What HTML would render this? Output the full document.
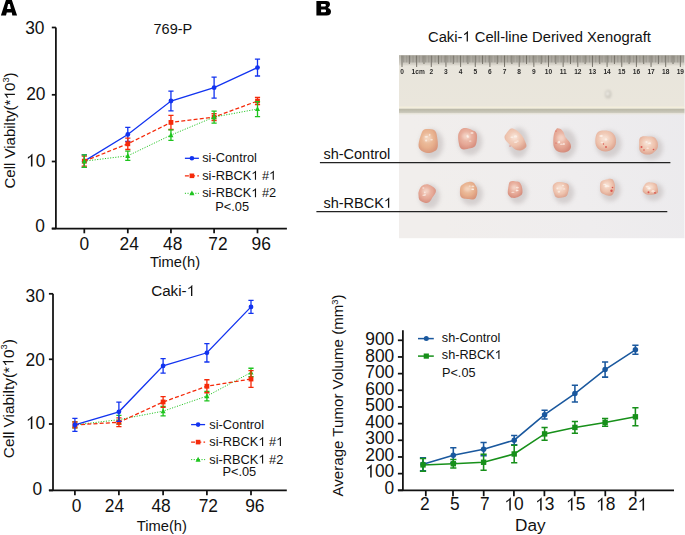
<!DOCTYPE html>
<html><head><meta charset="utf-8"><style>
html,body{margin:0;padding:0;background:#fff;}
svg{display:block;}
text{font-family:"Liberation Sans", sans-serif;fill:#111;}
</style></head><body>
<svg width="685" height="535" viewBox="0 0 685 535">
<defs>
<radialGradient id="tumA" cx="45%" cy="40%" r="62%">
<stop offset="0" stop-color="#efc7aa"/>
<stop offset="0.6" stop-color="#e8b18e"/>
<stop offset="1" stop-color="#d9977c"/>
</radialGradient>
<radialGradient id="tumB" cx="45%" cy="40%" r="62%">
<stop offset="0" stop-color="#f0c6b6"/>
<stop offset="0.6" stop-color="#e6a997"/>
<stop offset="1" stop-color="#d58b7b"/>
</radialGradient>
<radialGradient id="tumC" cx="45%" cy="40%" r="62%">
<stop offset="0" stop-color="#f6dccd"/>
<stop offset="0.6" stop-color="#eec3ae"/>
<stop offset="1" stop-color="#dca18d"/>
</radialGradient>
<linearGradient id="paper" x1="0" y1="0.2" x2="1" y2="0">
<stop offset="0" stop-color="#f1eeec"/>
<stop offset="0.5" stop-color="#efedee"/>
<stop offset="1" stop-color="#ebeaed"/>
</linearGradient>
<linearGradient id="rulerbody" x1="0" y1="0" x2="0" y2="1">
<stop offset="0" stop-color="#e8e5dc"/>
<stop offset="1" stop-color="#eae6dc"/>
</linearGradient>
<linearGradient id="tickband" x1="0" y1="0" x2="0" y2="1">
<stop offset="0" stop-color="#b3b0a6"/>
<stop offset="0.7" stop-color="#cbc8bf"/>
<stop offset="1" stop-color="#dedad0"/>
</linearGradient>
<linearGradient id="rulershadow" x1="0" y1="0" x2="0" y2="1">
<stop offset="0" stop-color="#b9b7a6"/>
<stop offset="0.5" stop-color="#c2c0b1"/>
<stop offset="1" stop-color="#d2d0c4"/>
</linearGradient>
<filter id="bl" x="-50%" y="-50%" width="200%" height="200%"><feGaussianBlur stdDeviation="2.2"/></filter>
<filter id="bl1" x="-50%" y="-50%" width="200%" height="200%"><feGaussianBlur stdDeviation="0.8"/></filter>
<filter id="bl2" x="-100%" y="-100%" width="300%" height="300%"><feGaussianBlur stdDeviation="0.35"/></filter>
<filter id="bl3" x="-20%" y="-20%" width="140%" height="140%"><feGaussianBlur stdDeviation="0.45"/></filter>
</defs>
<rect width="685" height="535" fill="#fff"/>
<path fill-rule="evenodd" fill="#000" d="M6.1 -0.5H11.7L17.1 15.4H12.3L11.8 12.6H6.8L6.0 15.4H0.9ZM8.1 4.0H9.8L10.9 9.1H7.0Z"/>
<path fill-rule="evenodd" fill="#000" d="M316.4 0.9H326.1Q330.0 0.9 330.0 4.3Q330.0 6.9 327.9 7.9Q331.0 8.8 331.0 11.6Q331.0 15.6 326.6 15.6H316.4ZM321.1 4.1H324.7Q325.9 4.1 325.9 5.35Q325.9 6.6 324.7 6.6H321.1ZM321.1 9.5H324.9Q326.1 9.5 326.1 10.9Q326.1 12.3 324.9 12.3H321.1Z"/>
<path d="M55.9 27.5V228.5M51.8 228.5H286.9" stroke="#111" stroke-width="1.75" fill="none"/>
<path d="M51.8 228.50H55.9" stroke="#111" stroke-width="1.75"/>
<text transform="translate(45.00,231.50) scale(0.965,1.0)" font-size="18.0" text-anchor="end" >0</text>
<path d="M51.8 161.50H55.9" stroke="#111" stroke-width="1.75"/>
<path transform="translate(25.98,166.60) scale(17.370,-18.000)" d="M0.373 0H0.285V0.560C0.250 0.527 0.208 0.497 0.160 0.469C0.140 0.457 0.125 0.449 0.110 0.442V0.527C0.180 0.560 0.240 0.600 0.287 0.648C0.318 0.680 0.338 0.700 0.350 0.716H0.373Z" fill="#111"/>
<text transform="translate(35.64,166.60) scale(0.965,1)" font-size="18.0">0</text>
<path d="M51.8 94.80H55.9" stroke="#111" stroke-width="1.75"/>
<text transform="translate(45.50,100.30) scale(0.965,1.0)" font-size="18.0" text-anchor="end" >20</text>
<path d="M51.8 27.50H55.9" stroke="#111" stroke-width="1.75"/>
<text transform="translate(44.50,33.75) scale(0.965,1.0)" font-size="18.0" text-anchor="end" >30</text>
<path d="M84.3 228.5V233.3" stroke="#111" stroke-width="1.75"/>
<text transform="translate(84.45,249.70) scale(0.965,1.0)" font-size="18.0" text-anchor="middle" >0</text>
<path d="M127.8 228.5V233.3" stroke="#111" stroke-width="1.75"/>
<text transform="translate(129.15,249.70) scale(0.965,1.0)" font-size="18.0" text-anchor="middle" >24</text>
<path d="M170.95 228.5V233.3" stroke="#111" stroke-width="1.75"/>
<text transform="translate(172.70,249.70) scale(0.965,1.0)" font-size="18.0" text-anchor="middle" >48</text>
<path d="M214.1 228.5V233.3" stroke="#111" stroke-width="1.75"/>
<text transform="translate(217.90,249.70) scale(0.965,1.0)" font-size="18.0" text-anchor="middle" >72</text>
<path d="M257.5 228.5V233.3" stroke="#111" stroke-width="1.75"/>
<text transform="translate(261.20,249.70) scale(0.965,1.0)" font-size="18.0" text-anchor="middle" >96</text>
<g transform="translate(153.50,33.80)"><text transform="translate(0.00,0.00) scale(1.0,1)" font-size="14.5" fill="#111" xml:space="preserve">769-P</text></g>
<text transform="translate(149.90,266.60) scale(1.03,1.0)" font-size="14.3" text-anchor="start" >Time(h)</text>
<g transform="translate(14.90,188.50) rotate(-90)"><text transform="translate(0.00,0.00) scale(1.0,1)" font-size="15.0" fill="#111" xml:space="preserve">Cell Viabilty(*</text><path transform="translate(89.19,0.00) scale(15.000,-15.000)" d="M0.373 0H0.285V0.560C0.250 0.527 0.208 0.497 0.160 0.469C0.140 0.457 0.125 0.449 0.110 0.442V0.527C0.180 0.560 0.240 0.600 0.287 0.648C0.318 0.680 0.338 0.700 0.350 0.716H0.373Z" fill="#111"/><text transform="translate(97.54,0.00) scale(1.0,1)" font-size="15.0" fill="#111" xml:space="preserve">0</text><text transform="translate(105.88,-6.20) scale(1.0,1)" font-size="9.3" fill="#111" xml:space="preserve">3</text><text transform="translate(111.05,0.00) scale(1.0,1)" font-size="15.0" fill="#111" xml:space="preserve">)</text></g>
<polyline points="84.30,161.17 127.80,134.44 170.95,101.02 214.10,87.66 257.50,67.61" fill="none" stroke="#1233f0" stroke-width="1.3" />
<path d="M84.30 154.87V167.47M81.70 154.87H86.90M81.70 167.47H86.90" stroke="#1233f0" stroke-width="1.3" fill="none"/>
<path d="M127.80 127.44V141.44M125.20 127.44H130.40M125.20 141.44H130.40" stroke="#1233f0" stroke-width="1.3" fill="none"/>
<path d="M170.95 91.12V110.92M168.35 91.12H173.55M168.35 110.92H173.55" stroke="#1233f0" stroke-width="1.3" fill="none"/>
<path d="M214.10 77.16V98.16M211.50 77.16H216.70M211.50 98.16H216.70" stroke="#1233f0" stroke-width="1.3" fill="none"/>
<path d="M257.50 59.21V76.01M254.90 59.21H260.10M254.90 76.01H260.10" stroke="#1233f0" stroke-width="1.3" fill="none"/>
<circle cx="84.30" cy="161.17" r="2.4" fill="#1233f0"/>
<circle cx="127.80" cy="134.44" r="2.4" fill="#1233f0"/>
<circle cx="170.95" cy="101.02" r="2.4" fill="#1233f0"/>
<circle cx="214.10" cy="87.66" r="2.4" fill="#1233f0"/>
<circle cx="257.50" cy="67.61" r="2.4" fill="#1233f0"/>
<polyline points="84.30,161.17 127.80,143.79 170.95,122.41 214.10,117.06 257.50,101.02" fill="none" stroke="#f52a0a" stroke-width="1.3" stroke-dasharray="4 2.2"/>
<path d="M84.30 156.17V166.17M81.70 156.17H86.90M81.70 166.17H86.90" stroke="#f52a0a" stroke-width="1.3" fill="none"/>
<path d="M127.80 138.09V149.49M125.20 138.09H130.40M125.20 149.49H130.40" stroke="#f52a0a" stroke-width="1.3" fill="none"/>
<path d="M170.95 115.31V129.51M168.35 115.31H173.55M168.35 129.51H173.55" stroke="#f52a0a" stroke-width="1.3" fill="none"/>
<path d="M214.10 113.56V120.56M211.50 113.56H216.70M211.50 120.56H216.70" stroke="#f52a0a" stroke-width="1.3" fill="none"/>
<path d="M257.50 97.42V104.62M254.90 97.42H260.10M254.90 104.62H260.10" stroke="#f52a0a" stroke-width="1.3" fill="none"/>
<rect x="81.90" y="158.77" width="4.8" height="4.8" fill="#f52a0a"/>
<rect x="125.40" y="141.39" width="4.8" height="4.8" fill="#f52a0a"/>
<rect x="168.55" y="120.01" width="4.8" height="4.8" fill="#f52a0a"/>
<rect x="211.70" y="114.66" width="4.8" height="4.8" fill="#f52a0a"/>
<rect x="255.10" y="98.62" width="4.8" height="4.8" fill="#f52a0a"/>
<polyline points="84.30,161.17 127.80,155.82 170.95,135.11 214.10,117.06 257.50,109.04" fill="none" stroke="#1ec41e" stroke-width="1.0" stroke-dasharray="1.1 1.5"/>
<path d="M84.30 154.87V167.47M81.70 154.87H86.90M81.70 167.47H86.90" stroke="#1ec41e" stroke-width="1.3" fill="none"/>
<path d="M127.80 151.22V160.42M125.20 151.22H130.40M125.20 160.42H130.40" stroke="#1ec41e" stroke-width="1.3" fill="none"/>
<path d="M170.95 129.91V140.31M168.35 129.91H173.55M168.35 140.31H173.55" stroke="#1ec41e" stroke-width="1.3" fill="none"/>
<path d="M214.10 111.06V123.06M211.50 111.06H216.70M211.50 123.06H216.70" stroke="#1ec41e" stroke-width="1.3" fill="none"/>
<path d="M257.50 101.54V116.54M254.90 101.54H260.10M254.90 116.54H260.10" stroke="#1ec41e" stroke-width="1.3" fill="none"/>
<path d="M81.77 163.24 L86.83 163.24 L84.30 158.41Z" fill="#1ec41e"/>
<path d="M125.27 157.89 L130.33 157.89 L127.80 153.06Z" fill="#1ec41e"/>
<path d="M168.42 137.18 L173.48 137.18 L170.95 132.35Z" fill="#1ec41e"/>
<path d="M211.57 119.13 L216.63 119.13 L214.10 114.30Z" fill="#1ec41e"/>
<path d="M254.97 111.11 L260.03 111.11 L257.50 106.28Z" fill="#1ec41e"/>
<path d="M184.9 158.30H198.9" stroke="#1233f0" stroke-width="1.3" />
<circle cx="191.90" cy="158.30" r="2.3" fill="#1233f0"/>
<g transform="translate(202.20,162.30)"><text transform="translate(0.00,0.00) scale(1.0,1)" font-size="12.8" fill="#111" xml:space="preserve">si-Control</text></g>
<path d="M184.9 175.80H198.9" stroke="#f52a0a" stroke-width="1.3" stroke-dasharray="4 2.2"/>
<rect x="189.60" y="173.50" width="4.6" height="4.6" fill="#f52a0a"/>
<g transform="translate(202.20,179.80)"><text transform="translate(0.00,0.00) scale(1.0,1)" font-size="12.8" fill="#111" xml:space="preserve">si-RBCK</text><path transform="translate(49.07,0.00) scale(12.800,-12.800)" d="M0.373 0H0.285V0.560C0.250 0.527 0.208 0.497 0.160 0.469C0.140 0.457 0.125 0.449 0.110 0.442V0.527C0.180 0.560 0.240 0.600 0.287 0.648C0.318 0.680 0.338 0.700 0.350 0.716H0.373Z" fill="#111"/><text transform="translate(56.19,0.00) scale(1.0,1)" font-size="12.8" fill="#111" xml:space="preserve"> #</text><path transform="translate(66.86,0.00) scale(12.800,-12.800)" d="M0.373 0H0.285V0.560C0.250 0.527 0.208 0.497 0.160 0.469C0.140 0.457 0.125 0.449 0.110 0.442V0.527C0.180 0.560 0.240 0.600 0.287 0.648C0.318 0.680 0.338 0.700 0.350 0.716H0.373Z" fill="#111"/></g>
<path d="M184.9 193.30H198.9" stroke="#1ec41e" stroke-width="1.0" stroke-dasharray="1.1 1.5"/>
<path d="M189.37 195.37 L194.43 195.37 L191.90 190.54Z" fill="#1ec41e"/>
<g transform="translate(202.20,197.30)"><text transform="translate(0.00,0.00) scale(1.0,1)" font-size="12.8" fill="#111" xml:space="preserve">si-RBCK</text><path transform="translate(49.07,0.00) scale(12.800,-12.800)" d="M0.373 0H0.285V0.560C0.250 0.527 0.208 0.497 0.160 0.469C0.140 0.457 0.125 0.449 0.110 0.442V0.527C0.180 0.560 0.240 0.600 0.287 0.648C0.318 0.680 0.338 0.700 0.350 0.716H0.373Z" fill="#111"/><text transform="translate(56.19,0.00) scale(1.0,1)" font-size="12.8" fill="#111" xml:space="preserve"> #2</text></g>
<text x="215.29999999999998" y="210.5" font-size="12.8" text-anchor="start" >P&lt;.05</text>
<path d="M53.0 293.8V490.4M48.9 490.4H286.8" stroke="#111" stroke-width="1.75" fill="none"/>
<path d="M48.9 490.40H53.0" stroke="#111" stroke-width="1.75"/>
<text transform="translate(42.20,494.80) scale(0.965,1.0)" font-size="18.0" text-anchor="end" >0</text>
<path d="M48.9 424.00H53.0" stroke="#111" stroke-width="1.75"/>
<path transform="translate(25.88,428.90) scale(17.370,-18.000)" d="M0.373 0H0.285V0.560C0.250 0.527 0.208 0.497 0.160 0.469C0.140 0.457 0.125 0.449 0.110 0.442V0.527C0.180 0.560 0.240 0.600 0.287 0.648C0.318 0.680 0.338 0.700 0.350 0.716H0.373Z" fill="#111"/>
<text transform="translate(35.54,428.90) scale(0.965,1)" font-size="18.0">0</text>
<path d="M48.9 359.30H53.0" stroke="#111" stroke-width="1.75"/>
<text transform="translate(44.90,365.90) scale(0.965,1.0)" font-size="18.0" text-anchor="end" >20</text>
<path d="M48.9 293.80H53.0" stroke="#111" stroke-width="1.75"/>
<text transform="translate(44.80,302.20) scale(0.965,1.0)" font-size="18.0" text-anchor="end" >30</text>
<path d="M74.9 490.4V495.2" stroke="#111" stroke-width="1.75"/>
<text transform="translate(76.65,511.70) scale(0.965,1.0)" font-size="18.0" text-anchor="middle" >0</text>
<path d="M118.9 490.4V495.2" stroke="#111" stroke-width="1.75"/>
<text transform="translate(114.45,511.70) scale(0.965,1.0)" font-size="18.0" text-anchor="middle" >24</text>
<path d="M163.1 490.4V495.2" stroke="#111" stroke-width="1.75"/>
<text transform="translate(161.10,511.70) scale(0.965,1.0)" font-size="18.0" text-anchor="middle" >48</text>
<path d="M206.9 490.4V495.2" stroke="#111" stroke-width="1.75"/>
<text transform="translate(208.30,511.70) scale(0.965,1.0)" font-size="18.0" text-anchor="middle" >72</text>
<path d="M251.0 490.4V495.2" stroke="#111" stroke-width="1.75"/>
<text transform="translate(254.80,511.70) scale(0.965,1.0)" font-size="18.0" text-anchor="middle" >96</text>
<g transform="translate(151.20,296.00)"><text transform="translate(0.00,0.00) scale(1.0,1)" font-size="15.2" fill="#111" xml:space="preserve">Caki-</text><path transform="translate(35.47,0.00) scale(15.200,-15.200)" d="M0.373 0H0.285V0.560C0.250 0.527 0.208 0.497 0.160 0.469C0.140 0.457 0.125 0.449 0.110 0.442V0.527C0.180 0.560 0.240 0.600 0.287 0.648C0.318 0.680 0.338 0.700 0.350 0.716H0.373Z" fill="#111"/></g>
<text transform="translate(136.80,530.60) scale(1.03,1.0)" font-size="14.3" text-anchor="start" >Time(h)</text>
<g transform="translate(13.50,458.20) rotate(-90)"><text transform="translate(0.00,0.00) scale(1.0,1)" font-size="15.4" fill="#111" xml:space="preserve">Cell Viabilty(*</text><path transform="translate(91.57,0.00) scale(15.400,-15.400)" d="M0.373 0H0.285V0.560C0.250 0.527 0.208 0.497 0.160 0.469C0.140 0.457 0.125 0.449 0.110 0.442V0.527C0.180 0.560 0.240 0.600 0.287 0.648C0.318 0.680 0.338 0.700 0.350 0.716H0.373Z" fill="#111"/><text transform="translate(100.14,0.00) scale(1.0,1)" font-size="15.4" fill="#111" xml:space="preserve">0</text><text transform="translate(108.70,-6.20) scale(1.0,1)" font-size="9.3" fill="#111" xml:space="preserve">3</text><text transform="translate(113.88,0.00) scale(1.0,1)" font-size="15.4" fill="#111" xml:space="preserve">)</text></g>
<polyline points="74.90,424.93 118.90,419.68 163.10,411.16 206.90,396.08 251.00,372.47" fill="none" stroke="#1ec41e" stroke-width="1.0" stroke-dasharray="1.1 1.5"/>
<path d="M74.90 421.93V427.93M72.30 421.93H77.50M72.30 427.93H77.50" stroke="#1ec41e" stroke-width="1.3" fill="none"/>
<path d="M118.90 415.28V424.08M116.30 415.28H121.50M116.30 424.08H121.50" stroke="#1ec41e" stroke-width="1.3" fill="none"/>
<path d="M163.10 406.36V415.96M160.50 406.36H165.70M160.50 415.96H165.70" stroke="#1ec41e" stroke-width="1.3" fill="none"/>
<path d="M206.90 391.38V400.78M204.30 391.38H209.50M204.30 400.78H209.50" stroke="#1ec41e" stroke-width="1.3" fill="none"/>
<path d="M251.00 368.27V376.67M248.40 368.27H253.60M248.40 376.67H253.60" stroke="#1ec41e" stroke-width="1.3" fill="none"/>
<path d="M72.37 427.00 L77.43 427.00 L74.90 422.17Z" fill="#1ec41e"/>
<path d="M116.37 421.75 L121.43 421.75 L118.90 416.92Z" fill="#1ec41e"/>
<path d="M160.57 413.23 L165.63 413.23 L163.10 408.40Z" fill="#1ec41e"/>
<path d="M204.37 398.15 L209.43 398.15 L206.90 393.32Z" fill="#1ec41e"/>
<path d="M248.47 374.54 L253.53 374.54 L251.00 369.71Z" fill="#1ec41e"/>
<polyline points="74.90,424.93 118.90,422.31 163.10,401.98 206.90,386.24 251.00,379.03" fill="none" stroke="#f52a0a" stroke-width="1.3" stroke-dasharray="4 2.2"/>
<path d="M74.90 421.93V427.93M72.30 421.93H77.50M72.30 427.93H77.50" stroke="#f52a0a" stroke-width="1.3" fill="none"/>
<path d="M118.90 417.91V426.71M116.30 417.91H121.50M116.30 426.71H121.50" stroke="#f52a0a" stroke-width="1.3" fill="none"/>
<path d="M163.10 396.68V407.28M160.50 396.68H165.70M160.50 407.28H165.70" stroke="#f52a0a" stroke-width="1.3" fill="none"/>
<path d="M206.90 379.74V392.74M204.30 379.74H209.50M204.30 392.74H209.50" stroke="#f52a0a" stroke-width="1.3" fill="none"/>
<path d="M251.00 370.63V387.43M248.40 370.63H253.60M248.40 387.43H253.60" stroke="#f52a0a" stroke-width="1.3" fill="none"/>
<rect x="72.50" y="422.53" width="4.8" height="4.8" fill="#f52a0a"/>
<rect x="116.50" y="419.91" width="4.8" height="4.8" fill="#f52a0a"/>
<rect x="160.70" y="399.58" width="4.8" height="4.8" fill="#f52a0a"/>
<rect x="204.50" y="383.84" width="4.8" height="4.8" fill="#f52a0a"/>
<rect x="248.60" y="376.63" width="4.8" height="4.8" fill="#f52a0a"/>
<polyline points="74.90,424.93 118.90,411.82 163.10,365.92 206.90,352.80 251.00,306.90" fill="none" stroke="#1233f0" stroke-width="1.3" />
<path d="M74.90 418.43V431.43M72.30 418.43H77.50M72.30 431.43H77.50" stroke="#1233f0" stroke-width="1.3" fill="none"/>
<path d="M118.90 402.22V421.42M116.30 402.22H121.50M116.30 421.42H121.50" stroke="#1233f0" stroke-width="1.3" fill="none"/>
<path d="M163.10 358.62V373.22M160.50 358.62H165.70M160.50 373.22H165.70" stroke="#1233f0" stroke-width="1.3" fill="none"/>
<path d="M206.90 343.60V362.00M204.30 343.60H209.50M204.30 362.00H209.50" stroke="#1233f0" stroke-width="1.3" fill="none"/>
<path d="M251.00 300.40V313.40M248.40 300.40H253.60M248.40 313.40H253.60" stroke="#1233f0" stroke-width="1.3" fill="none"/>
<circle cx="74.90" cy="424.93" r="2.4" fill="#1233f0"/>
<circle cx="118.90" cy="411.82" r="2.4" fill="#1233f0"/>
<circle cx="163.10" cy="365.92" r="2.4" fill="#1233f0"/>
<circle cx="206.90" cy="352.80" r="2.4" fill="#1233f0"/>
<circle cx="251.00" cy="306.90" r="2.4" fill="#1233f0"/>
<path d="M191.1 424.60H205.1" stroke="#1233f0" stroke-width="1.3" />
<circle cx="198.10" cy="424.60" r="2.3" fill="#1233f0"/>
<g transform="translate(209.30,428.60)"><text transform="translate(0.00,0.00) scale(1.0,1)" font-size="12.8" fill="#111" xml:space="preserve">si-Control</text></g>
<path d="M191.1 442.10H205.1" stroke="#f52a0a" stroke-width="1.3" stroke-dasharray="4 2.2"/>
<rect x="195.80" y="439.80" width="4.6" height="4.6" fill="#f52a0a"/>
<g transform="translate(209.30,446.10)"><text transform="translate(0.00,0.00) scale(1.0,1)" font-size="12.8" fill="#111" xml:space="preserve">si-RBCK</text><path transform="translate(49.07,0.00) scale(12.800,-12.800)" d="M0.373 0H0.285V0.560C0.250 0.527 0.208 0.497 0.160 0.469C0.140 0.457 0.125 0.449 0.110 0.442V0.527C0.180 0.560 0.240 0.600 0.287 0.648C0.318 0.680 0.338 0.700 0.350 0.716H0.373Z" fill="#111"/><text transform="translate(56.19,0.00) scale(1.0,1)" font-size="12.8" fill="#111" xml:space="preserve"> #</text><path transform="translate(66.86,0.00) scale(12.800,-12.800)" d="M0.373 0H0.285V0.560C0.250 0.527 0.208 0.497 0.160 0.469C0.140 0.457 0.125 0.449 0.110 0.442V0.527C0.180 0.560 0.240 0.600 0.287 0.648C0.318 0.680 0.338 0.700 0.350 0.716H0.373Z" fill="#111"/></g>
<path d="M191.1 459.60H205.1" stroke="#1ec41e" stroke-width="1.0" stroke-dasharray="1.1 1.5"/>
<path d="M195.57 461.67 L200.63 461.67 L198.10 456.84Z" fill="#1ec41e"/>
<g transform="translate(209.30,463.60)"><text transform="translate(0.00,0.00) scale(1.0,1)" font-size="12.8" fill="#111" xml:space="preserve">si-RBCK</text><path transform="translate(49.07,0.00) scale(12.800,-12.800)" d="M0.373 0H0.285V0.560C0.250 0.527 0.208 0.497 0.160 0.469C0.140 0.457 0.125 0.449 0.110 0.442V0.527C0.180 0.560 0.240 0.600 0.287 0.648C0.318 0.680 0.338 0.700 0.350 0.716H0.373Z" fill="#111"/><text transform="translate(56.19,0.00) scale(1.0,1)" font-size="12.8" fill="#111" xml:space="preserve"> #2</text></g>
<text x="222.4" y="475.7" font-size="12.8" text-anchor="start" >P&lt;.05</text>
<path d="M402.9 330.2V490.3M397.9 490.3H674" stroke="#111" stroke-width="1.75" fill="none"/>
<path d="M397.9 490.30H402.9" stroke="#111" stroke-width="1.75"/>
<text transform="translate(394.20,494.00) scale(0.965,1.0)" font-size="18.0" text-anchor="end" >0</text>
<path d="M397.9 473.63H402.9" stroke="#111" stroke-width="1.75"/>
<path transform="translate(365.23,477.48) scale(17.370,-18.000)" d="M0.373 0H0.285V0.560C0.250 0.527 0.208 0.497 0.160 0.469C0.140 0.457 0.125 0.449 0.110 0.442V0.527C0.180 0.560 0.240 0.600 0.287 0.648C0.318 0.680 0.338 0.700 0.350 0.716H0.373Z" fill="#111"/>
<text transform="translate(374.88,477.48) scale(0.965,1)" font-size="18.0">0</text>
<text transform="translate(384.54,477.48) scale(0.965,1)" font-size="18.0">0</text>
<path d="M397.9 456.97H402.9" stroke="#111" stroke-width="1.75"/>
<text transform="translate(394.20,460.96) scale(0.965,1.0)" font-size="18.0" text-anchor="end" >200</text>
<path d="M397.9 440.30H402.9" stroke="#111" stroke-width="1.75"/>
<text transform="translate(394.20,444.44) scale(0.965,1.0)" font-size="18.0" text-anchor="end" >300</text>
<path d="M397.9 423.63H402.9" stroke="#111" stroke-width="1.75"/>
<text transform="translate(394.20,427.92) scale(0.965,1.0)" font-size="18.0" text-anchor="end" >400</text>
<path d="M397.9 406.97H402.9" stroke="#111" stroke-width="1.75"/>
<text transform="translate(394.20,411.40) scale(0.965,1.0)" font-size="18.0" text-anchor="end" >500</text>
<path d="M397.9 390.30H402.9" stroke="#111" stroke-width="1.75"/>
<text transform="translate(394.20,394.88) scale(0.965,1.0)" font-size="18.0" text-anchor="end" >600</text>
<path d="M397.9 373.63H402.9" stroke="#111" stroke-width="1.75"/>
<text transform="translate(394.20,378.36) scale(0.965,1.0)" font-size="18.0" text-anchor="end" >700</text>
<path d="M397.9 356.96H402.9" stroke="#111" stroke-width="1.75"/>
<text transform="translate(394.20,361.84) scale(0.965,1.0)" font-size="18.0" text-anchor="end" >800</text>
<path d="M397.9 340.30H402.9" stroke="#111" stroke-width="1.75"/>
<text transform="translate(394.20,345.32) scale(0.965,1.0)" font-size="18.0" text-anchor="end" >900</text>
<path d="M425.8 490.3V496.2" stroke="#111" stroke-width="1.75"/>
<text transform="translate(424.90,510.40) scale(0.965,1.0)" font-size="18.0" text-anchor="middle" >2</text>
<path d="M453.0 490.3V496.2" stroke="#111" stroke-width="1.75"/>
<text transform="translate(454.90,510.40) scale(0.965,1.0)" font-size="18.0" text-anchor="middle" >5</text>
<path d="M483.7 490.3V496.2" stroke="#111" stroke-width="1.75"/>
<text transform="translate(484.90,510.40) scale(0.965,1.0)" font-size="18.0" text-anchor="middle" >7</text>
<path d="M513.9 490.3V496.2" stroke="#111" stroke-width="1.75"/>
<path transform="translate(504.34,510.40) scale(17.370,-18.000)" d="M0.373 0H0.285V0.560C0.250 0.527 0.208 0.497 0.160 0.469C0.140 0.457 0.125 0.449 0.110 0.442V0.527C0.180 0.560 0.240 0.600 0.287 0.648C0.318 0.680 0.338 0.700 0.350 0.716H0.373Z" fill="#111"/>
<text transform="translate(514.00,510.40) scale(0.965,1)" font-size="18.0">0</text>
<path d="M544.4 490.3V496.2" stroke="#111" stroke-width="1.75"/>
<path transform="translate(535.19,510.40) scale(17.370,-18.000)" d="M0.373 0H0.285V0.560C0.250 0.527 0.208 0.497 0.160 0.469C0.140 0.457 0.125 0.449 0.110 0.442V0.527C0.180 0.560 0.240 0.600 0.287 0.648C0.318 0.680 0.338 0.700 0.350 0.716H0.373Z" fill="#111"/>
<text transform="translate(544.85,510.40) scale(0.965,1)" font-size="18.0">3</text>
<path d="M574.7 490.3V496.2" stroke="#111" stroke-width="1.75"/>
<path transform="translate(565.99,510.40) scale(17.370,-18.000)" d="M0.373 0H0.285V0.560C0.250 0.527 0.208 0.497 0.160 0.469C0.140 0.457 0.125 0.449 0.110 0.442V0.527C0.180 0.560 0.240 0.600 0.287 0.648C0.318 0.680 0.338 0.700 0.350 0.716H0.373Z" fill="#111"/>
<text transform="translate(575.65,510.40) scale(0.965,1)" font-size="18.0">5</text>
<path d="M605.3 490.3V496.2" stroke="#111" stroke-width="1.75"/>
<path transform="translate(595.99,510.40) scale(17.370,-18.000)" d="M0.373 0H0.285V0.560C0.250 0.527 0.208 0.497 0.160 0.469C0.140 0.457 0.125 0.449 0.110 0.442V0.527C0.180 0.560 0.240 0.600 0.287 0.648C0.318 0.680 0.338 0.700 0.350 0.716H0.373Z" fill="#111"/>
<text transform="translate(605.65,510.40) scale(0.965,1)" font-size="18.0">8</text>
<path d="M635.5 490.3V496.2" stroke="#111" stroke-width="1.75"/>
<text transform="translate(627.94,510.40) scale(0.965,1)" font-size="18.0">2</text>
<path transform="translate(637.60,510.40) scale(17.370,-18.000)" d="M0.373 0H0.285V0.560C0.250 0.527 0.208 0.497 0.160 0.469C0.140 0.457 0.125 0.449 0.110 0.442V0.527C0.180 0.560 0.240 0.600 0.287 0.648C0.318 0.680 0.338 0.700 0.350 0.716H0.373Z" fill="#111"/>
<text x="530.4" y="531.1" font-size="17.2" text-anchor="middle" >Day</text>
<text transform="translate(342.9,496.5) rotate(-90)" font-size="15.1">Average Tumor Volume (mm<tspan font-size="9.4" dy="-5.2">3</tspan><tspan dy="5.2">)</tspan></text>
<polyline points="423.00,464.25 453.30,455.29 483.60,449.15 514.20,440.19 544.60,414.64 574.90,393.58 605.10,369.52 635.40,349.78" fill="none" stroke="#1a589e" stroke-width="1.55" />
<path d="M423.00 457.75V470.75M419.90 457.75H426.10M419.90 470.75H426.10" stroke="#1a589e" stroke-width="1.55" fill="none"/>
<path d="M453.30 447.69V462.89M450.20 447.69H456.40M450.20 462.89H456.40" stroke="#1a589e" stroke-width="1.55" fill="none"/>
<path d="M483.60 442.55V455.75M480.50 442.55H486.70M480.50 455.75H486.70" stroke="#1a589e" stroke-width="1.55" fill="none"/>
<path d="M514.20 435.59V444.79M511.10 435.59H517.30M511.10 444.79H517.30" stroke="#1a589e" stroke-width="1.55" fill="none"/>
<path d="M544.60 410.25V419.04M541.50 410.25H547.70M541.50 419.04H547.70" stroke="#1a589e" stroke-width="1.55" fill="none"/>
<path d="M574.90 385.18V401.98M571.80 385.18H578.00M571.80 401.98H578.00" stroke="#1a589e" stroke-width="1.55" fill="none"/>
<path d="M605.10 361.92V377.12M602.00 361.92H608.20M602.00 377.12H608.20" stroke="#1a589e" stroke-width="1.55" fill="none"/>
<path d="M635.40 345.28V354.28M632.30 345.28H638.50M632.30 354.28H638.50" stroke="#1a589e" stroke-width="1.55" fill="none"/>
<circle cx="423.00" cy="464.25" r="2.75" fill="#1a589e"/>
<circle cx="453.30" cy="455.29" r="2.75" fill="#1a589e"/>
<circle cx="483.60" cy="449.15" r="2.75" fill="#1a589e"/>
<circle cx="514.20" cy="440.19" r="2.75" fill="#1a589e"/>
<circle cx="544.60" cy="414.64" r="2.75" fill="#1a589e"/>
<circle cx="574.90" cy="393.58" r="2.75" fill="#1a589e"/>
<circle cx="605.10" cy="369.52" r="2.75" fill="#1a589e"/>
<circle cx="635.40" cy="349.78" r="2.75" fill="#1a589e"/>
<polyline points="423.00,464.91 453.30,463.75 483.60,462.26 514.20,453.96 544.60,433.89 574.90,427.42 605.10,422.44 635.40,416.80" fill="none" stroke="#17901a" stroke-width="1.55" />
<path d="M423.00 458.51V471.31M419.90 458.51H426.10M419.90 471.31H426.10" stroke="#17901a" stroke-width="1.55" fill="none"/>
<path d="M453.30 459.45V468.05M450.20 459.45H456.40M450.20 468.05H456.40" stroke="#17901a" stroke-width="1.55" fill="none"/>
<path d="M483.60 454.26V470.26M480.50 454.26H486.70M480.50 470.26H486.70" stroke="#17901a" stroke-width="1.55" fill="none"/>
<path d="M514.20 445.26V462.66M511.10 445.26H517.30M511.10 462.66H517.30" stroke="#17901a" stroke-width="1.55" fill="none"/>
<path d="M544.60 427.49V440.29M541.50 427.49H547.70M541.50 440.29H547.70" stroke="#17901a" stroke-width="1.55" fill="none"/>
<path d="M574.90 421.52V433.32M571.80 421.52H578.00M571.80 433.32H578.00" stroke="#17901a" stroke-width="1.55" fill="none"/>
<path d="M605.10 418.54V426.34M602.00 418.54H608.20M602.00 426.34H608.20" stroke="#17901a" stroke-width="1.55" fill="none"/>
<path d="M635.40 407.80V425.80M632.30 407.80H638.50M632.30 425.80H638.50" stroke="#17901a" stroke-width="1.55" fill="none"/>
<rect x="420.30" y="462.21" width="5.4" height="5.4" fill="#17901a"/>
<rect x="450.60" y="461.05" width="5.4" height="5.4" fill="#17901a"/>
<rect x="480.90" y="459.56" width="5.4" height="5.4" fill="#17901a"/>
<rect x="511.50" y="451.26" width="5.4" height="5.4" fill="#17901a"/>
<rect x="541.90" y="431.19" width="5.4" height="5.4" fill="#17901a"/>
<rect x="572.20" y="424.72" width="5.4" height="5.4" fill="#17901a"/>
<rect x="602.40" y="419.74" width="5.4" height="5.4" fill="#17901a"/>
<rect x="632.70" y="414.10" width="5.4" height="5.4" fill="#17901a"/>
<path d="M418 338.6H433.8" stroke="#1a589e" stroke-width="1.5"/>
<circle cx="426.30" cy="338.60" r="2.5" fill="#1a589e"/>
<g transform="translate(441.80,341.50)"><text transform="translate(0.00,0.00) scale(1.0,1)" font-size="12.7" fill="#111" xml:space="preserve">sh-Control</text></g>
<path d="M418 356.1H433.8" stroke="#17901a" stroke-width="1.5"/>
<rect x="423.70" y="353.50" width="5.2" height="5.2" fill="#17901a"/>
<g transform="translate(441.80,359.00)"><text transform="translate(0.00,0.00) scale(1.0,1)" font-size="12.7" fill="#111" xml:space="preserve">sh-RBCK</text><path transform="translate(52.93,0.00) scale(12.700,-12.700)" d="M0.373 0H0.285V0.560C0.250 0.527 0.208 0.497 0.160 0.469C0.140 0.457 0.125 0.449 0.110 0.442V0.527C0.180 0.560 0.240 0.600 0.287 0.648C0.318 0.680 0.338 0.700 0.350 0.716H0.373Z" fill="#111"/></g>
<text x="442" y="376.8" font-size="12.7" text-anchor="start" >P&lt;.05</text>
<g transform="translate(539.60,41.60)"><text transform="translate(-111.62,0.00) scale(1.008,1)" font-size="14.65" fill="#111" xml:space="preserve">Caki-</text><path transform="translate(-77.16,0.00) scale(14.767,-14.650)" d="M0.373 0H0.285V0.560C0.250 0.527 0.208 0.497 0.160 0.469C0.140 0.457 0.125 0.449 0.110 0.442V0.527C0.180 0.560 0.240 0.600 0.287 0.648C0.318 0.680 0.338 0.700 0.350 0.716H0.373Z" fill="#111"/><text transform="translate(-68.95,0.00) scale(1.008,1)" font-size="14.65" fill="#111" xml:space="preserve"> Cell-line Derived Xenograft</text></g>
<rect x="399" y="55.2" width="285.5" height="183" fill="url(#paper)"/>
<rect x="399" y="55.2" width="285.5" height="52" fill="url(#rulerbody)"/>
<rect x="399" y="55.2" width="285.5" height="10.3" fill="url(#tickband)"/>
<rect x="399" y="106.5" width="285.5" height="2.2" fill="#f3eedb"/>
<rect x="399" y="108.7" width="285.5" height="4.7" fill="url(#rulershadow)"/>
<rect x="399" y="113.4" width="285.5" height="1" fill="#e9e5da"/>
<path d="M403.46 55.5v7 M404.93 55.5v7 M406.39 55.5v7 M407.86 55.5v7 M410.79 55.5v7 M412.25 55.5v7 M413.72 55.5v7 M415.19 55.5v7 M418.12 55.5v7 M419.58 55.5v7 M421.05 55.5v7 M422.51 55.5v7 M425.44 55.5v7 M426.90 55.5v7 M428.37 55.5v7 M429.83 55.5v7 M432.76 55.5v7 M434.23 55.5v7 M435.69 55.5v7 M437.16 55.5v7 M440.09 55.5v7 M441.56 55.5v7 M443.02 55.5v7 M444.49 55.5v7 M447.42 55.5v7 M448.88 55.5v7 M450.35 55.5v7 M451.81 55.5v7 M454.74 55.5v7 M456.20 55.5v7 M457.67 55.5v7 M459.13 55.5v7 M462.06 55.5v7 M463.53 55.5v7 M465.00 55.5v7 M466.46 55.5v7 M469.39 55.5v7 M470.86 55.5v7 M472.32 55.5v7 M473.79 55.5v7 M476.72 55.5v7 M478.18 55.5v7 M479.64 55.5v7 M481.11 55.5v7 M484.04 55.5v7 M485.50 55.5v7 M486.97 55.5v7 M488.44 55.5v7 M491.37 55.5v7 M492.83 55.5v7 M494.30 55.5v7 M495.76 55.5v7 M498.69 55.5v7 M500.15 55.5v7 M501.62 55.5v7 M503.09 55.5v7 M506.01 55.5v7 M507.48 55.5v7 M508.94 55.5v7 M510.41 55.5v7 M513.34 55.5v7 M514.81 55.5v7 M516.27 55.5v7 M517.74 55.5v7 M520.66 55.5v7 M522.13 55.5v7 M523.60 55.5v7 M525.06 55.5v7 M527.99 55.5v7 M529.46 55.5v7 M530.92 55.5v7 M532.38 55.5v7 M535.32 55.5v7 M536.78 55.5v7 M538.25 55.5v7 M539.71 55.5v7 M542.64 55.5v7 M544.11 55.5v7 M545.57 55.5v7 M547.03 55.5v7 M549.97 55.5v7 M551.43 55.5v7 M552.89 55.5v7 M554.36 55.5v7 M557.29 55.5v7 M558.75 55.5v7 M560.22 55.5v7 M561.68 55.5v7 M564.62 55.5v7 M566.08 55.5v7 M567.55 55.5v7 M569.01 55.5v7 M571.94 55.5v7 M573.40 55.5v7 M574.87 55.5v7 M576.34 55.5v7 M579.26 55.5v7 M580.73 55.5v7 M582.20 55.5v7 M583.66 55.5v7 M586.59 55.5v7 M588.06 55.5v7 M589.52 55.5v7 M590.99 55.5v7 M593.91 55.5v7 M595.38 55.5v7 M596.85 55.5v7 M598.31 55.5v7 M601.24 55.5v7 M602.71 55.5v7 M604.17 55.5v7 M605.63 55.5v7 M608.57 55.5v7 M610.03 55.5v7 M611.50 55.5v7 M612.96 55.5v7 M615.89 55.5v7 M617.36 55.5v7 M618.82 55.5v7 M620.29 55.5v7 M623.22 55.5v7 M624.68 55.5v7 M626.14 55.5v7 M627.61 55.5v7 M630.54 55.5v7 M632.00 55.5v7 M633.47 55.5v7 M634.93 55.5v7 M637.87 55.5v7 M639.33 55.5v7 M640.80 55.5v7 M642.26 55.5v7 M645.19 55.5v7 M646.65 55.5v7 M648.12 55.5v7 M649.59 55.5v7 M652.51 55.5v7 M653.98 55.5v7 M655.45 55.5v7 M656.91 55.5v7 M659.84 55.5v7 M661.31 55.5v7 M662.77 55.5v7 M664.24 55.5v7 M667.16 55.5v7 M668.63 55.5v7 M670.10 55.5v7 M671.56 55.5v7 M674.49 55.5v7 M675.96 55.5v7 M677.42 55.5v7 M678.88 55.5v7 M681.82 55.5v7 M683.28 55.5v7" stroke="#85817a" stroke-width="0.75" opacity="0.85"/>
<path d="M402.00 55.5v11.5 M409.32 55.5v8.5 M416.65 55.5v11.5 M423.98 55.5v8.5 M431.30 55.5v11.5 M438.62 55.5v8.5 M445.95 55.5v11.5 M453.27 55.5v8.5 M460.60 55.5v11.5 M467.93 55.5v8.5 M475.25 55.5v11.5 M482.57 55.5v8.5 M489.90 55.5v11.5 M497.23 55.5v8.5 M504.55 55.5v11.5 M511.88 55.5v8.5 M519.20 55.5v11.5 M526.52 55.5v8.5 M533.85 55.5v11.5 M541.17 55.5v8.5 M548.50 55.5v11.5 M555.83 55.5v8.5 M563.15 55.5v11.5 M570.48 55.5v8.5 M577.80 55.5v11.5 M585.12 55.5v8.5 M592.45 55.5v11.5 M599.77 55.5v8.5 M607.10 55.5v11.5 M614.42 55.5v8.5 M621.75 55.5v11.5 M629.08 55.5v8.5 M636.40 55.5v11.5 M643.73 55.5v8.5 M651.05 55.5v11.5 M658.38 55.5v8.5 M665.70 55.5v11.5 M673.03 55.5v8.5 M680.35 55.5v11.5" stroke="#5e5a52" stroke-width="0.8"/>
<text x="402.00" y="74" font-size="6.6" text-anchor="middle" font-weight="bold" fill="#55524c" opacity="0.9">0</text>
<text x="418.15" y="74" font-size="6.6" text-anchor="middle" font-weight="bold" fill="#55524c" opacity="0.9">1cm</text>
<text x="431.30" y="74" font-size="6.6" text-anchor="middle" font-weight="bold" fill="#55524c" opacity="0.9">2</text>
<text x="445.95" y="74" font-size="6.6" text-anchor="middle" font-weight="bold" fill="#55524c" opacity="0.9">3</text>
<text x="460.60" y="74" font-size="6.6" text-anchor="middle" font-weight="bold" fill="#55524c" opacity="0.9">4</text>
<text x="475.25" y="74" font-size="6.6" text-anchor="middle" font-weight="bold" fill="#55524c" opacity="0.9">5</text>
<text x="489.90" y="74" font-size="6.6" text-anchor="middle" font-weight="bold" fill="#55524c" opacity="0.9">6</text>
<text x="504.55" y="74" font-size="6.6" text-anchor="middle" font-weight="bold" fill="#55524c" opacity="0.9">7</text>
<text x="519.20" y="74" font-size="6.6" text-anchor="middle" font-weight="bold" fill="#55524c" opacity="0.9">8</text>
<text x="533.85" y="74" font-size="6.6" text-anchor="middle" font-weight="bold" fill="#55524c" opacity="0.9">9</text>
<text x="548.50" y="74" font-size="6.6" text-anchor="middle" font-weight="bold" fill="#55524c" opacity="0.9">10</text>
<text x="563.15" y="74" font-size="6.6" text-anchor="middle" font-weight="bold" fill="#55524c" opacity="0.9">11</text>
<text x="577.80" y="74" font-size="6.6" text-anchor="middle" font-weight="bold" fill="#55524c" opacity="0.9">12</text>
<text x="592.45" y="74" font-size="6.6" text-anchor="middle" font-weight="bold" fill="#55524c" opacity="0.9">13</text>
<text x="607.10" y="74" font-size="6.6" text-anchor="middle" font-weight="bold" fill="#55524c" opacity="0.9">14</text>
<text x="621.75" y="74" font-size="6.6" text-anchor="middle" font-weight="bold" fill="#55524c" opacity="0.9">15</text>
<text x="636.40" y="74" font-size="6.6" text-anchor="middle" font-weight="bold" fill="#55524c" opacity="0.9">16</text>
<text x="651.05" y="74" font-size="6.6" text-anchor="middle" font-weight="bold" fill="#55524c" opacity="0.9">17</text>
<text x="665.70" y="74" font-size="6.6" text-anchor="middle" font-weight="bold" fill="#55524c" opacity="0.9">18</text>
<text x="680.35" y="74" font-size="6.6" text-anchor="middle" font-weight="bold" fill="#55524c" opacity="0.9">19</text>
<ellipse cx="608.2" cy="94.3" rx="3.3" ry="4.2" fill="#cfcbc2" filter="url(#bl1)"/>
<ellipse cx="607.6" cy="93.6" rx="1.6" ry="2.2" fill="#eeece6" filter="url(#bl1)"/>
<ellipse cx="431.5" cy="144.2" rx="11.8" ry="15.0" fill="#c9c3c3" opacity="0.7" filter="url(#bl)"/>
<path d="M437.77 141.94C437.85 143.37 437.92 145.23 437.75 146.47C437.57 147.71 437.20 148.62 436.74 149.38C436.27 150.15 435.59 150.62 434.96 151.07C434.33 151.51 433.66 151.77 432.96 152.06C432.27 152.34 431.68 152.64 430.78 152.78C429.88 152.93 428.62 153.01 427.56 152.92C426.50 152.84 425.27 152.56 424.40 152.27C423.54 151.98 423.01 151.60 422.37 151.21C421.72 150.81 421.10 150.45 420.55 149.91C420.00 149.37 419.40 148.80 419.06 147.97C418.73 147.14 418.50 146.18 418.53 144.93C418.56 143.68 418.92 141.85 419.23 140.46C419.54 139.06 420.03 137.64 420.37 136.57C420.71 135.49 420.96 134.84 421.27 134.02C421.57 133.19 421.80 132.31 422.22 131.61C422.65 130.90 423.16 130.21 423.80 129.77C424.45 129.32 425.15 129.09 426.09 128.96C427.04 128.83 428.36 128.91 429.48 129.00C430.60 129.09 431.91 129.22 432.83 129.50C433.74 129.78 434.40 130.12 434.96 130.66C435.53 131.20 435.92 131.96 436.22 132.73C436.53 133.50 436.61 134.39 436.79 135.26C436.96 136.13 437.10 136.81 437.26 137.92C437.43 139.03 437.69 140.52 437.77 141.94Z" fill="url(#tumA)" filter="url(#bl3)"/>
<ellipse cx="427.6" cy="138.2" rx="4.2" ry="3.6" fill="#fcefe6" opacity="0.35" filter="url(#bl1)"/>
<ellipse cx="426.1" cy="140.5" rx="1.1" ry="1.0" fill="#fffaf5" opacity="0.6" filter="url(#bl2)"/>
<ellipse cx="429.7" cy="134.8" rx="0.8" ry="1.1" fill="#fffaf5" opacity="0.6" filter="url(#bl2)"/>
<ellipse cx="426.3" cy="136.8" rx="1.7" ry="0.9" fill="#fffaf5" opacity="0.6" filter="url(#bl2)"/>
<ellipse cx="431.6" cy="139.7" rx="1.4" ry="0.7" fill="#fffaf5" opacity="0.6" filter="url(#bl2)"/>
<ellipse cx="470.3" cy="141.8" rx="11.9" ry="13.4" fill="#c9c3c3" opacity="0.7" filter="url(#bl)"/>
<path d="M476.97 138.80C476.89 140.06 476.70 141.47 476.49 142.49C476.28 143.51 476.07 144.21 475.72 144.91C475.38 145.61 474.95 146.22 474.43 146.69C473.91 147.16 473.25 147.45 472.59 147.73C471.92 148.00 471.32 148.14 470.44 148.36C469.56 148.58 468.41 148.86 467.30 149.04C466.19 149.23 464.79 149.51 463.80 149.47C462.80 149.44 462.00 149.25 461.35 148.84C460.70 148.43 460.24 147.71 459.88 147.01C459.51 146.32 459.39 145.48 459.18 144.69C458.98 143.90 458.82 143.26 458.65 142.27C458.48 141.29 458.25 139.99 458.17 138.80C458.09 137.61 458.07 136.15 458.19 135.14C458.31 134.12 458.58 133.43 458.89 132.70C459.20 131.97 459.59 131.36 460.03 130.76C460.47 130.16 460.93 129.55 461.56 129.10C462.18 128.66 462.83 128.25 463.79 128.10C464.75 127.96 466.19 128.06 467.30 128.24C468.41 128.43 469.60 128.89 470.44 129.22C471.29 129.55 471.74 129.91 472.38 130.22C473.02 130.53 473.67 130.70 474.28 131.08C474.88 131.46 475.57 131.84 476.01 132.48C476.46 133.12 476.80 133.87 476.96 134.92C477.12 135.97 477.05 137.54 476.97 138.80Z" fill="url(#tumB)" filter="url(#bl3)"/>
<ellipse cx="466.4" cy="136.2" rx="4.2" ry="3.1" fill="#fcefe6" opacity="0.35" filter="url(#bl1)"/>
<ellipse cx="468.0" cy="137.0" rx="1.3" ry="0.7" fill="#fffaf5" opacity="0.6" filter="url(#bl2)"/>
<ellipse cx="470.2" cy="141.1" rx="1.4" ry="0.7" fill="#fffaf5" opacity="0.6" filter="url(#bl2)"/>
<ellipse cx="467.5" cy="136.0" rx="1.0" ry="1.2" fill="#fffaf5" opacity="0.6" filter="url(#bl2)"/>
<ellipse cx="472.0" cy="133.0" rx="1.6" ry="1.0" fill="#fffaf5" opacity="0.6" filter="url(#bl2)"/>
<ellipse cx="518.5" cy="142.8" rx="10.1" ry="15.0" fill="#c9c3c3" opacity="0.7" filter="url(#bl)"/>
<path d="M521.16 134.53C522.06 135.62 522.95 136.97 523.52 137.93C524.09 138.88 524.22 139.53 524.56 140.28C524.89 141.03 525.23 141.68 525.53 142.43C525.83 143.17 526.27 143.99 526.37 144.75C526.47 145.51 526.53 146.29 526.15 147.00C525.77 147.71 524.86 148.49 524.08 149.01C523.30 149.54 522.25 149.91 521.48 150.14C520.70 150.37 520.11 150.37 519.44 150.39C518.77 150.41 518.15 150.42 517.46 150.25C516.77 150.08 516.06 149.80 515.32 149.38C514.59 148.95 513.94 148.44 513.06 147.69C512.18 146.94 511.06 145.87 510.03 144.89C509.01 143.91 507.75 142.75 506.91 141.81C506.07 140.87 505.41 140.06 505.00 139.25C504.60 138.43 504.45 137.60 504.48 136.91C504.51 136.22 504.90 135.67 505.20 135.11C505.50 134.55 505.87 134.18 506.29 133.57C506.71 132.96 507.19 132.15 507.72 131.45C508.26 130.76 508.88 129.86 509.48 129.38C510.08 128.90 510.66 128.67 511.32 128.59C511.98 128.50 512.72 128.66 513.45 128.86C514.18 129.06 514.91 129.38 515.68 129.80C516.46 130.22 517.19 130.60 518.10 131.39C519.02 132.18 520.25 133.44 521.16 134.53Z" fill="url(#tumC)" filter="url(#bl3)"/>
<ellipse cx="514.7" cy="136.8" rx="3.4" ry="3.6" fill="#fcefe6" opacity="0.35" filter="url(#bl1)"/>
<ellipse cx="515.7" cy="142.3" rx="1.7" ry="0.8" fill="#fffaf5" opacity="0.6" filter="url(#bl2)"/>
<ellipse cx="517.5" cy="141.1" rx="1.4" ry="0.7" fill="#fffaf5" opacity="0.6" filter="url(#bl2)"/>
<ellipse cx="511.9" cy="137.2" rx="1.5" ry="0.8" fill="#fffaf5" opacity="0.6" filter="url(#bl2)"/>
<ellipse cx="515.5" cy="136.4" rx="1.6" ry="1.2" fill="#fffaf5" opacity="0.6" filter="url(#bl2)"/>
<ellipse cx="565.0" cy="144.0" rx="11.5" ry="15.0" fill="#c9c3c3" opacity="0.7" filter="url(#bl)"/>
<path d="M557 128.3C561 128 563.5 131 564.5 135C565.5 139 571 141 571 146.5C571 151 566 152.8 562 152.6C557 152.4 553.3 149 553.3 143C553.3 137 553.5 132 557 128.3Z" fill="url(#tumB)" filter="url(#bl3)"/>
<ellipse cx="561.1" cy="138.0" rx="4.0" ry="3.6" fill="#fcefe6" opacity="0.35" filter="url(#bl1)"/>
<ellipse cx="563.9" cy="143.9" rx="1.0" ry="1.2" fill="#fffaf5" opacity="0.6" filter="url(#bl2)"/>
<ellipse cx="559.2" cy="141.9" rx="0.9" ry="1.1" fill="#fffaf5" opacity="0.6" filter="url(#bl2)"/>
<ellipse cx="558.9" cy="142.3" rx="1.5" ry="1.1" fill="#fffaf5" opacity="0.6" filter="url(#bl2)"/>
<ellipse cx="561.5" cy="144.2" rx="1.7" ry="0.7" fill="#fffaf5" opacity="0.6" filter="url(#bl2)"/>
<ellipse cx="608.6" cy="144.0" rx="12.9" ry="13.4" fill="#c9c3c3" opacity="0.7" filter="url(#bl)"/>
<path d="M600 131C604 130 609 130.5 612 132.5C615.5 135 616.3 139 616 142.5C615.5 148 611 151.6 605.5 151.5C599.5 151.4 595.3 147.5 595.3 141.5C595.3 136 596.5 132 600 131Z" fill="url(#tumC)" filter="url(#bl3)"/>
<ellipse cx="604.6" cy="138.4" rx="4.7" ry="3.1" fill="#fcefe6" opacity="0.35" filter="url(#bl1)"/>
<ellipse cx="600.5" cy="135.9" rx="1.2" ry="1.0" fill="#fffaf5" opacity="0.6" filter="url(#bl2)"/>
<ellipse cx="601.8" cy="135.9" rx="1.0" ry="1.1" fill="#fffaf5" opacity="0.6" filter="url(#bl2)"/>
<ellipse cx="601.9" cy="142.5" rx="1.4" ry="0.7" fill="#fffaf5" opacity="0.6" filter="url(#bl2)"/>
<ellipse cx="606.0" cy="139.4" rx="1.2" ry="1.2" fill="#fffaf5" opacity="0.6" filter="url(#bl2)"/>
<ellipse cx="651.0" cy="148.0" rx="11.9" ry="12.1" fill="#c9c3c3" opacity="0.7" filter="url(#bl)"/>
<path d="M657.96 145.00C657.96 146.11 657.77 147.47 657.46 148.33C657.16 149.19 656.59 149.64 656.12 150.15C655.64 150.67 655.11 150.99 654.63 151.42C654.15 151.85 653.78 152.31 653.24 152.74C652.70 153.17 652.26 153.71 651.38 154.02C650.51 154.32 649.14 154.55 648.00 154.58C646.86 154.61 645.48 154.41 644.55 154.19C643.63 153.96 643.06 153.60 642.43 153.23C641.80 152.87 641.24 152.48 640.77 152.00C640.30 151.52 639.87 150.98 639.60 150.33C639.33 149.68 639.22 149.00 639.14 148.11C639.07 147.23 639.15 146.04 639.16 145.00C639.16 143.96 639.14 142.81 639.16 141.89C639.18 140.97 639.11 140.21 639.29 139.47C639.46 138.74 639.74 137.98 640.23 137.48C640.71 136.97 641.46 136.64 642.21 136.44C642.96 136.25 643.77 136.31 644.74 136.30C645.70 136.29 646.92 136.35 648.00 136.38C649.08 136.41 650.29 136.37 651.20 136.47C652.11 136.56 652.80 136.67 653.46 136.94C654.12 137.20 654.67 137.61 655.17 138.06C655.66 138.51 656.05 139.05 656.43 139.65C656.81 140.25 657.19 140.79 657.45 141.68C657.70 142.57 657.95 143.89 657.96 145.00Z" fill="url(#tumC)" filter="url(#bl3)"/>
<ellipse cx="647.1" cy="142.7" rx="4.2" ry="2.7" fill="#fcefe6" opacity="0.35" filter="url(#bl1)"/>
<ellipse cx="649.3" cy="143.4" rx="1.5" ry="0.6" fill="#fffaf5" opacity="0.6" filter="url(#bl2)"/>
<ellipse cx="649.9" cy="143.0" rx="1.3" ry="0.7" fill="#fffaf5" opacity="0.6" filter="url(#bl2)"/>
<ellipse cx="646.5" cy="142.0" rx="1.1" ry="1.0" fill="#fffaf5" opacity="0.6" filter="url(#bl2)"/>
<ellipse cx="647.7" cy="148.3" rx="1.3" ry="0.7" fill="#fffaf5" opacity="0.6" filter="url(#bl2)"/>
<ellipse cx="429.6" cy="196.4" rx="10.2" ry="12.2" fill="#c9c3c3" opacity="0.7" filter="url(#bl)"/>
<path d="M432.92 196.85C432.35 197.74 431.80 198.71 431.32 199.46C430.83 200.21 430.50 200.82 430.02 201.35C429.54 201.88 429.01 202.34 428.44 202.62C427.87 202.89 427.25 202.98 426.62 203.01C425.99 203.03 425.42 202.96 424.66 202.75C423.89 202.54 422.87 202.17 422.05 201.74C421.22 201.30 420.26 200.70 419.73 200.14C419.19 199.58 419.01 198.98 418.82 198.37C418.64 197.77 418.69 197.13 418.64 196.53C418.58 195.92 418.54 195.39 418.51 194.74C418.47 194.10 418.28 193.54 418.43 192.66C418.58 191.78 418.93 190.49 419.40 189.47C419.88 188.45 420.66 187.26 421.28 186.56C421.89 185.86 422.50 185.59 423.10 185.27C423.69 184.94 424.26 184.77 424.84 184.59C425.42 184.42 425.98 184.25 426.58 184.22C427.19 184.19 427.75 184.19 428.47 184.42C429.18 184.65 430.10 185.15 430.87 185.59C431.64 186.03 432.46 186.59 433.09 187.03C433.72 187.47 434.21 187.79 434.65 188.25C435.09 188.71 435.56 189.21 435.74 189.81C435.93 190.42 435.96 191.16 435.78 191.88C435.61 192.60 435.18 193.31 434.70 194.14C434.23 194.97 433.48 195.97 432.92 196.85Z" fill="url(#tumB)" filter="url(#bl3)"/>
<ellipse cx="425.8" cy="191.1" rx="3.5" ry="2.8" fill="#fcefe6" opacity="0.35" filter="url(#bl1)"/>
<ellipse cx="424.8" cy="192.4" rx="0.9" ry="0.8" fill="#fffaf5" opacity="0.6" filter="url(#bl2)"/>
<ellipse cx="423.3" cy="188.0" rx="1.1" ry="0.7" fill="#fffaf5" opacity="0.6" filter="url(#bl2)"/>
<ellipse cx="425.1" cy="194.7" rx="0.8" ry="1.0" fill="#fffaf5" opacity="0.6" filter="url(#bl2)"/>
<ellipse cx="423.8" cy="195.2" rx="1.5" ry="0.7" fill="#fffaf5" opacity="0.6" filter="url(#bl2)"/>
<ellipse cx="471.7" cy="194.0" rx="11.2" ry="11.6" fill="#c9c3c3" opacity="0.7" filter="url(#bl)"/>
<path d="M477.34 191.00C477.36 192.00 477.25 193.17 477.12 194.02C476.99 194.87 476.81 195.45 476.56 196.09C476.32 196.74 476.08 197.38 475.67 197.89C475.26 198.40 474.75 198.89 474.10 199.15C473.46 199.42 472.71 199.48 471.81 199.47C470.91 199.47 469.69 199.23 468.70 199.10C467.71 198.98 466.69 198.83 465.86 198.73C465.03 198.63 464.41 198.64 463.73 198.49C463.05 198.34 462.33 198.19 461.80 197.82C461.26 197.46 460.82 196.92 460.52 196.30C460.22 195.68 460.11 195.00 460.01 194.12C459.91 193.24 459.91 192.03 459.94 191.00C459.96 189.97 460.00 188.77 460.18 187.94C460.35 187.11 460.63 186.54 460.99 186.00C461.35 185.47 461.86 185.09 462.34 184.72C462.83 184.34 463.34 184.08 463.90 183.75C464.45 183.42 464.86 183.04 465.66 182.73C466.46 182.42 467.64 182.03 468.70 181.90C469.76 181.78 471.14 181.78 472.01 181.98C472.89 182.18 473.42 182.65 473.94 183.10C474.46 183.54 474.77 184.13 475.13 184.65C475.49 185.17 475.79 185.64 476.10 186.21C476.40 186.77 476.75 187.24 476.95 188.04C477.16 188.84 477.31 190.00 477.34 191.00Z" fill="url(#tumA)" filter="url(#bl3)"/>
<ellipse cx="467.8" cy="188.8" rx="3.9" ry="2.6" fill="#fcefe6" opacity="0.35" filter="url(#bl1)"/>
<ellipse cx="472.9" cy="186.3" rx="1.5" ry="0.9" fill="#fffaf5" opacity="0.6" filter="url(#bl2)"/>
<ellipse cx="472.5" cy="189.3" rx="1.6" ry="0.7" fill="#fffaf5" opacity="0.6" filter="url(#bl2)"/>
<ellipse cx="473.0" cy="189.4" rx="1.0" ry="0.8" fill="#fffaf5" opacity="0.6" filter="url(#bl2)"/>
<ellipse cx="469.8" cy="186.1" rx="1.1" ry="0.6" fill="#fffaf5" opacity="0.6" filter="url(#bl2)"/>
<ellipse cx="517.9" cy="192.5" rx="9.7" ry="11.4" fill="#c9c3c3" opacity="0.7" filter="url(#bl)"/>
<path d="M522.38 189.50C522.49 190.52 522.57 191.84 522.44 192.70C522.32 193.55 522.00 194.14 521.63 194.65C521.26 195.15 520.71 195.43 520.25 195.74C519.78 196.05 519.31 196.23 518.83 196.49C518.34 196.75 517.99 197.07 517.33 197.31C516.68 197.55 515.74 197.84 514.90 197.93C514.06 198.03 513.01 198.00 512.29 197.87C511.58 197.75 511.10 197.46 510.59 197.16C510.09 196.87 509.65 196.52 509.25 196.09C508.85 195.67 508.46 195.21 508.22 194.61C507.97 194.02 507.81 193.37 507.77 192.52C507.73 191.67 507.87 190.46 507.98 189.50C508.09 188.54 508.30 187.54 508.42 186.76C508.55 185.97 508.61 185.44 508.74 184.79C508.87 184.14 508.94 183.43 509.22 182.87C509.49 182.31 509.87 181.77 510.38 181.45C510.88 181.13 511.49 181.01 512.24 180.96C512.99 180.90 514.04 181.04 514.90 181.13C515.76 181.23 516.69 181.35 517.38 181.52C518.08 181.68 518.56 181.84 519.04 182.12C519.53 182.41 519.94 182.79 520.28 183.22C520.62 183.66 520.86 184.19 521.11 184.75C521.36 185.31 521.58 185.79 521.79 186.58C522.00 187.37 522.27 188.48 522.38 189.50Z" fill="url(#tumB)" filter="url(#bl3)"/>
<ellipse cx="514.2" cy="187.4" rx="3.2" ry="2.5" fill="#fcefe6" opacity="0.35" filter="url(#bl1)"/>
<ellipse cx="512.9" cy="192.3" rx="1.7" ry="0.6" fill="#fffaf5" opacity="0.6" filter="url(#bl2)"/>
<ellipse cx="517.4" cy="190.5" rx="1.4" ry="0.6" fill="#fffaf5" opacity="0.6" filter="url(#bl2)"/>
<ellipse cx="517.3" cy="187.6" rx="1.5" ry="0.9" fill="#fffaf5" opacity="0.6" filter="url(#bl2)"/>
<ellipse cx="516.8" cy="190.6" rx="1.1" ry="1.0" fill="#fffaf5" opacity="0.6" filter="url(#bl2)"/>
<ellipse cx="563.8" cy="192.7" rx="10.4" ry="10.9" fill="#c9c3c3" opacity="0.7" filter="url(#bl)"/>
<path d="M568.72 189.70C568.57 190.64 568.33 191.62 568.14 192.36C567.94 193.10 567.80 193.59 567.57 194.14C567.34 194.69 567.11 195.22 566.75 195.65C566.39 196.08 565.93 196.43 565.40 196.72C564.87 197.00 564.35 197.18 563.58 197.35C562.81 197.53 561.76 197.69 560.80 197.77C559.84 197.85 558.66 197.94 557.85 197.83C557.04 197.73 556.44 197.48 555.93 197.12C555.43 196.76 555.11 196.19 554.83 195.67C554.55 195.15 554.45 194.55 554.25 194.00C554.04 193.44 553.83 193.03 553.61 192.31C553.39 191.59 553.06 190.62 552.92 189.70C552.77 188.78 552.67 187.58 552.75 186.78C552.84 185.97 553.11 185.41 553.43 184.87C553.74 184.33 554.20 183.93 554.65 183.55C555.10 183.16 555.57 182.84 556.13 182.57C556.69 182.31 557.21 182.07 557.99 181.97C558.77 181.87 559.89 181.89 560.80 181.97C561.71 182.05 562.70 182.28 563.43 182.45C564.17 182.62 564.62 182.79 565.20 182.98C565.79 183.16 566.40 183.27 566.94 183.56C567.47 183.86 568.05 184.20 568.39 184.72C568.73 185.25 568.94 185.90 568.99 186.72C569.05 187.55 568.86 188.76 568.72 189.70Z" fill="url(#tumC)" filter="url(#bl3)"/>
<ellipse cx="560.0" cy="187.7" rx="3.6" ry="2.4" fill="#fcefe6" opacity="0.35" filter="url(#bl1)"/>
<ellipse cx="557.4" cy="188.4" rx="1.0" ry="0.9" fill="#fffaf5" opacity="0.6" filter="url(#bl2)"/>
<ellipse cx="558.9" cy="191.8" rx="1.3" ry="1.0" fill="#fffaf5" opacity="0.6" filter="url(#bl2)"/>
<ellipse cx="564.2" cy="188.9" rx="1.2" ry="0.7" fill="#fffaf5" opacity="0.6" filter="url(#bl2)"/>
<ellipse cx="563.0" cy="185.5" rx="1.1" ry="0.7" fill="#fffaf5" opacity="0.6" filter="url(#bl2)"/>
<ellipse cx="610.6" cy="190.2" rx="10.0" ry="11.2" fill="#c9c3c3" opacity="0.7" filter="url(#bl)"/>
<path d="M614.96 187.20C614.95 188.14 614.82 189.24 614.68 190.01C614.53 190.78 614.29 191.26 614.07 191.83C613.85 192.41 613.65 192.96 613.34 193.48C613.04 194.00 612.74 194.59 612.26 194.97C611.77 195.35 611.22 195.67 610.45 195.77C609.67 195.87 608.49 195.72 607.60 195.55C606.71 195.39 605.77 195.02 605.08 194.77C604.40 194.52 604.01 194.29 603.50 194.05C602.98 193.80 602.46 193.64 602.01 193.32C601.56 192.99 601.10 192.61 600.79 192.08C600.48 191.55 600.28 190.97 600.14 190.16C600.00 189.35 599.97 188.19 599.96 187.20C599.95 186.21 599.96 185.04 600.07 184.21C600.18 183.38 600.34 182.76 600.64 182.21C600.94 181.66 601.38 181.24 601.85 180.92C602.32 180.60 602.91 180.47 603.46 180.29C604.01 180.10 604.45 179.99 605.14 179.80C605.83 179.61 606.73 179.32 607.60 179.15C608.47 178.99 609.61 178.77 610.39 178.80C611.17 178.84 611.78 179.04 612.30 179.37C612.81 179.69 613.18 180.24 613.50 180.75C613.82 181.27 614.01 181.86 614.22 182.46C614.43 183.06 614.62 183.57 614.75 184.36C614.87 185.15 614.97 186.26 614.96 187.20Z" fill="url(#tumC)" filter="url(#bl3)"/>
<ellipse cx="606.9" cy="185.1" rx="3.4" ry="2.5" fill="#fcefe6" opacity="0.35" filter="url(#bl1)"/>
<ellipse cx="605.9" cy="186.4" rx="1.3" ry="0.9" fill="#fffaf5" opacity="0.6" filter="url(#bl2)"/>
<ellipse cx="608.3" cy="186.3" rx="1.3" ry="0.7" fill="#fffaf5" opacity="0.6" filter="url(#bl2)"/>
<ellipse cx="604.7" cy="184.4" rx="1.5" ry="0.6" fill="#fffaf5" opacity="0.6" filter="url(#bl2)"/>
<ellipse cx="606.5" cy="185.7" rx="1.3" ry="0.9" fill="#fffaf5" opacity="0.6" filter="url(#bl2)"/>
<ellipse cx="653.5" cy="191.8" rx="10.0" ry="9.2" fill="#c9c3c3" opacity="0.7" filter="url(#bl)"/>
<path d="M657.76 188.80C657.88 189.52 658.09 190.42 658.09 191.08C658.09 191.73 658.01 192.28 657.75 192.73C657.48 193.17 657.00 193.51 656.51 193.77C656.02 194.02 655.40 194.11 654.81 194.24C654.23 194.37 653.74 194.45 653.02 194.54C652.30 194.63 651.36 194.76 650.50 194.80C649.64 194.84 648.61 194.85 647.88 194.76C647.15 194.68 646.66 194.50 646.14 194.30C645.62 194.09 645.19 193.84 644.75 193.55C644.32 193.26 643.88 192.97 643.54 192.57C643.20 192.17 642.87 191.76 642.74 191.13C642.61 190.50 642.63 189.54 642.76 188.80C642.88 188.06 643.23 187.25 643.49 186.69C643.75 186.14 644.06 185.86 644.32 185.45C644.57 185.05 644.74 184.65 645.02 184.27C645.30 183.88 645.56 183.44 646.01 183.14C646.46 182.84 646.97 182.59 647.72 182.47C648.47 182.34 649.59 182.36 650.50 182.40C651.41 182.44 652.44 182.56 653.18 182.69C653.92 182.82 654.43 182.97 654.94 183.20C655.45 183.42 655.91 183.70 656.24 184.05C656.58 184.40 656.79 184.85 656.97 185.29C657.15 185.74 657.21 186.16 657.34 186.75C657.47 187.33 657.63 188.08 657.76 188.80Z" fill="url(#tumC)" filter="url(#bl3)"/>
<ellipse cx="649.8" cy="187.2" rx="3.4" ry="1.9" fill="#fcefe6" opacity="0.35" filter="url(#bl1)"/>
<ellipse cx="648.8" cy="188.4" rx="1.4" ry="1.2" fill="#fffaf5" opacity="0.6" filter="url(#bl2)"/>
<ellipse cx="649.5" cy="188.4" rx="1.1" ry="0.9" fill="#fffaf5" opacity="0.6" filter="url(#bl2)"/>
<ellipse cx="653.1" cy="191.2" rx="1.6" ry="1.2" fill="#fffaf5" opacity="0.6" filter="url(#bl2)"/>
<ellipse cx="647.2" cy="186.6" rx="1.7" ry="0.9" fill="#fffaf5" opacity="0.6" filter="url(#bl2)"/>
<circle cx="641.5" cy="147" r="1.0" fill="#d9433f" opacity="0.85" filter="url(#bl2)"/>
<circle cx="644" cy="150" r="0.8" fill="#d9433f" opacity="0.85" filter="url(#bl2)"/>
<circle cx="653.5" cy="149.5" r="0.8" fill="#d9433f" opacity="0.85" filter="url(#bl2)"/>
<circle cx="606" cy="147" r="0.9" fill="#d9433f" opacity="0.85" filter="url(#bl2)"/>
<circle cx="611.5" cy="190.8" r="1.2" fill="#d9433f" opacity="0.85" filter="url(#bl2)"/>
<circle cx="612.5" cy="187.5" r="0.8" fill="#d9433f" opacity="0.85" filter="url(#bl2)"/>
<circle cx="648.5" cy="192.2" r="1.0" fill="#d9433f" opacity="0.85" filter="url(#bl2)"/>
<circle cx="655" cy="192.8" r="0.9" fill="#d9433f" opacity="0.85" filter="url(#bl2)"/>
<circle cx="603.5" cy="144" r="0.7" fill="#d9433f" opacity="0.85" filter="url(#bl2)"/>
<circle cx="556" cy="131" r="0.6" fill="#d9433f" opacity="0.85" filter="url(#bl2)"/>
<circle cx="556" cy="143" r="0.6" fill="#d9433f" opacity="0.85" filter="url(#bl2)"/>
<circle cx="510" cy="146" r="0.6" fill="#d9433f" opacity="0.85" filter="url(#bl2)"/>
<path d="M319.9 162.6H670.4M316.4 211.6H667.3" stroke="#222" stroke-width="1.3"/>
<text x="323.4" y="158.5" font-size="14.5" text-anchor="start" >sh-Control</text>
<g transform="translate(323.40,207.80)"><text transform="translate(0.00,0.00) scale(1.0,1)" font-size="14.5" fill="#111" xml:space="preserve">sh-RBCK</text><path transform="translate(60.43,0.00) scale(14.500,-14.500)" d="M0.373 0H0.285V0.560C0.250 0.527 0.208 0.497 0.160 0.469C0.140 0.457 0.125 0.449 0.110 0.442V0.527C0.180 0.560 0.240 0.600 0.287 0.648C0.318 0.680 0.338 0.700 0.350 0.716H0.373Z" fill="#111"/></g>
</svg>
</body></html>
